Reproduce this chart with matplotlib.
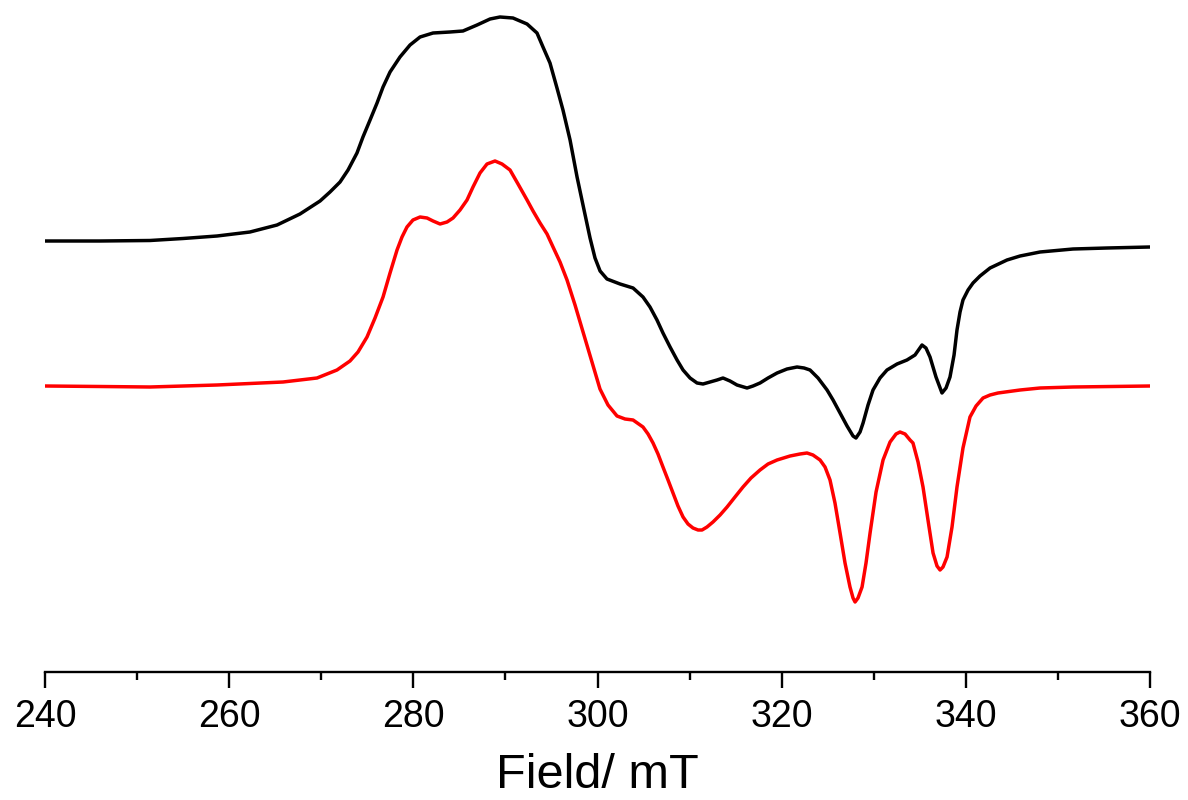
import matplotlib
matplotlib.use("Agg")
import matplotlib.pyplot as plt
from matplotlib.ticker import MultipleLocator

plt.rcParams['font.family'] = ['Liberation Sans', 'DejaVu Sans']

# ---- data ----
black_field = [240.00, 245.97, 251.40, 254.99, 258.68, 262.26, 265.20, 267.69, 269.87, 270.95,
               272.04, 272.91, 273.88, 274.53, 275.30, 276.06, 276.71, 277.47, 278.55, 279.64,
               280.73, 282.14, 283.98, 285.39, 286.92, 288.33, 289.41, 290.82, 292.35, 293.43,
               294.08, 294.84, 295.60, 296.25, 297.02, 297.78, 298.54, 299.19, 299.73, 300.28,
               301.03, 302.45, 303.86, 304.94, 305.70, 306.46, 307.11, 307.88, 308.64, 309.29,
               310.05, 310.81, 311.46, 312.22, 312.98, 313.63, 314.39, 315.15, 316.24, 316.89,
               317.65, 318.52, 319.50, 320.58, 321.67, 322.43, 323.08, 323.95, 324.93, 325.58,
               326.34, 327.10, 327.75, 328.07, 328.51, 328.84, 329.38, 329.92, 330.68, 331.44,
               332.53, 333.61, 334.48, 335.24, 335.67, 336.11, 336.76, 337.41, 337.85, 338.28,
               338.72, 339.04, 339.37, 339.69, 340.24, 340.78, 341.54, 342.63, 344.47, 345.89,
               348.06, 351.64, 355.33, 360.00]
black_signal = [0.0, 0.0, 0.05, 0.25, 0.5, 0.9, 1.6, 2.7, 4.0, 4.9,
                5.9, 7.1, 8.8, 10.4, 12.1, 13.8, 15.4, 16.9, 18.4, 19.6,
                20.4, 20.8, 20.9, 21.0, 21.6, 22.2, 22.4, 22.3, 21.7, 20.8,
                19.4, 17.8, 15.3, 13.1, 10.1, 6.4, 3.1, 0.3, -1.7, -3.0,
                -3.8, -4.3, -4.7, -5.6, -6.6, -7.9, -9.2, -10.6, -11.9, -12.9,
                -13.7, -14.2, -14.3, -14.1, -13.9, -13.7, -14.0, -14.4, -14.7, -14.5,
                -14.2, -13.7, -13.2, -12.8, -12.6, -12.7, -12.9, -13.7, -14.9, -15.9,
                -17.2, -18.5, -19.5, -19.7, -19.1, -18.2, -16.4, -14.9, -13.7, -12.9,
                -12.3, -11.9, -11.4, -10.4, -10.7, -11.6, -13.6, -15.2, -14.7, -13.6,
                -11.4, -8.9, -7.1, -5.9, -4.9, -4.2, -3.5, -2.7, -1.9, -1.5,
                -1.1, -0.8, -0.7, -0.6]

red_field = [240.00, 245.97, 251.40, 258.68, 265.85, 269.54, 271.71, 273.12, 273.99, 274.97,
             275.84, 276.71, 277.47, 278.23, 278.77, 279.31, 279.96, 280.73, 281.49, 282.14,
             282.90, 283.66, 284.31, 285.07, 285.83, 286.48, 287.24, 288.00, 288.87, 289.63,
             290.50, 291.37, 292.35, 293.00, 293.76, 294.52, 295.17, 295.93, 296.69, 297.56,
             298.43, 299.40, 300.27, 301.14, 302.12, 302.99, 303.86, 304.94, 305.49, 306.03,
             306.57, 307.11, 307.66, 308.20, 308.74, 309.29, 309.83, 310.37, 310.92, 311.35,
             311.89, 312.54, 313.31, 314.07, 314.93, 315.80, 316.67, 317.65, 318.52, 319.50,
             320.91, 321.99, 322.75, 323.40, 324.17, 324.71, 325.25, 325.79, 326.34, 326.88,
             327.42, 327.75, 327.97, 328.29, 328.73, 329.16, 329.60, 330.25, 331.01, 331.77,
             332.42, 332.85, 333.40, 333.94, 334.26, 334.81, 335.35, 335.89, 336.44, 336.87,
             337.20, 337.52, 337.96, 338.50, 339.04, 339.69, 340.45, 341.11, 341.87, 342.63,
             343.49, 345.89, 348.06, 351.64, 360.00]
red_signal = [0.0, -0.05, -0.1, 0.1, 0.4, 0.8, 1.6, 2.5, 3.4, 4.9,
              6.8, 8.9, 11.3, 13.6, 14.9, 15.9, 16.6, 16.9, 16.8, 16.5,
              16.2, 16.4, 16.8, 17.6, 18.6, 19.9, 21.3, 22.2, 22.5, 22.2,
              21.6, 20.2, 18.6, 17.5, 16.3, 15.2, 13.9, 12.4, 10.6, 8.1,
              5.4, 2.4, -0.3, -1.9, -3.0, -3.3, -3.4, -4.1, -4.8, -5.7,
              -6.8, -8.1, -9.4, -10.7, -12.0, -13.1, -13.8, -14.2, -14.4, -14.4,
              -14.1, -13.6, -12.9, -12.1, -11.1, -10.1, -9.2, -8.4, -7.8, -7.4,
              -7.0, -6.8, -6.7, -6.9, -7.4, -8.1, -9.4, -11.7, -14.7, -17.7,
              -20.1, -21.2, -21.6, -21.2, -20.1, -17.7, -14.7, -10.6, -7.4, -5.6,
              -4.8, -4.6, -4.8, -5.4, -5.7, -7.6, -10.1, -13.4, -16.7, -18.0,
              -18.4, -18.1, -17.1, -14.1, -10.1, -6.2, -3.1, -2.0, -1.2, -0.9,
              -0.7, -0.4, -0.2, -0.1, 0.0]

black_offset = 43.1
red_offset = 28.6

xticks_major = [240, 260, 280, 300, 320, 340, 360]
xlabel = "Field/ mT"

# ---- figure ----
fig = plt.figure(figsize=(11.88, 8.0), dpi=100)
ax = fig.add_axes([45 / 1188, 128 / 800, 1105 / 1188, 672 / 800])

ax.plot(black_field, [v + black_offset for v in black_signal], color='black', lw=2.5,
        solid_joinstyle='round', solid_capstyle='round')
ax.plot(red_field, [v + red_offset for v in red_signal], color='#ff0000', lw=2.5,
        solid_joinstyle='round', solid_capstyle='round')

ax.set_xlim(240, 360)
ax.set_ylim(0, 67.2)

for s in ['top', 'right', 'left']:
    ax.spines[s].set_visible(False)
ax.spines['bottom'].set_linewidth(1.7)
ax.set_yticks([])
ax.set_xticks(xticks_major)
ax.xaxis.set_minor_locator(MultipleLocator(10))
ax.tick_params(axis='x', which='major', direction='out', length=11.5, width=1.7,
               labelsize=27, pad=8)
ax.tick_params(axis='x', which='minor', direction='out', length=6, width=1.7)
ax.set_xlabel(xlabel, fontsize=35, labelpad=13)
ax.patch.set_visible(False)

fig.savefig("out.png", dpi=100)
